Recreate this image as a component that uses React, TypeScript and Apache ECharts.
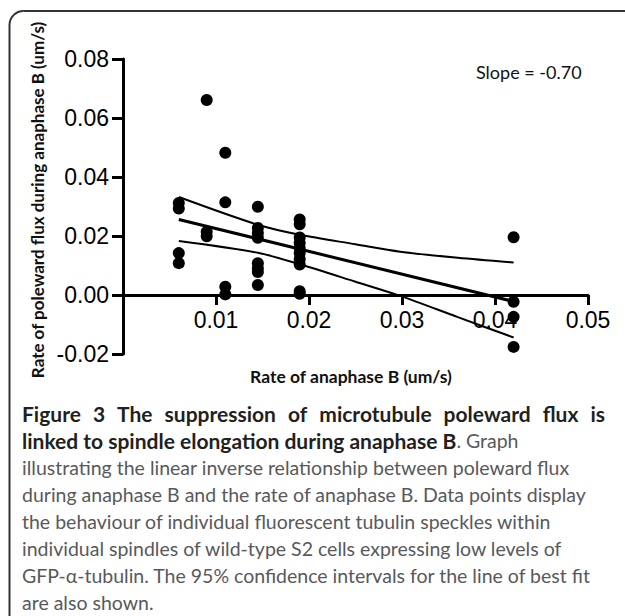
import React, { useEffect, useRef } from 'react';
import * as echarts from 'echarts';

// Scatter points: rate of anaphase B (x) vs rate of poleward flux (y), um/s
const rateAnaphaseB = [
  0.006, 0.006, 0.006, 0.006,
  0.009, 0.009, 0.009,
  0.011, 0.011, 0.011, 0.011,
  0.0145, 0.0145, 0.0145, 0.0145, 0.0145, 0.0145, 0.0145, 0.0145,
  0.019, 0.019, 0.019, 0.019, 0.019, 0.019, 0.019, 0.019, 0.019, 0.019,
  0.042, 0.042, 0.042, 0.042,
];
const polewardFlux = [
  0.0312, 0.0293, 0.0142, 0.0108,
  0.0661, 0.0214, 0.0199,
  0.0482, 0.0314, 0.0028, 0.0002,
  0.0299, 0.0227, 0.021, 0.0194, 0.0108, 0.0091, 0.0078, 0.0034,
  0.0256, 0.024, 0.0195, 0.0176, 0.0159, 0.0142, 0.0121, 0.0103, 0.0013, 0.0004,
  0.0196, -0.0023, -0.0074, -0.0176,
];

// Line of best fit (end points)
const fitX = [0.006, 0.042];
const fitY = [0.0256, -0.0022];

// 95% confidence band
const bandX = [0.006, 0.0145, 0.019, 0.025, 0.0298, 0.036, 0.042];
const upperY = [0.0332, 0.0238, 0.0204, 0.0172, 0.0147, 0.0126, 0.011];
const lowerY = [0.0183, 0.0143, 0.0104, 0.0045, -0.0003, -0.0075, -0.0144];

// Axis ticks
const xTicks = { min: 0, max: 0.05, interval: 0.01 };
const yTicks = { min: -0.02, max: 0.08, interval: 0.02 };

const slopeText = 'Slope = -0.70';
const xTitle = 'Rate of anaphase B (um/s)';
const yTitle = 'Rate of poleward flux during anaphase B (um/s)';

const captionLine1 = 'Figure 3 The suppression of microtubule poleward flux is';
const captionLine2Bold = 'linked to spindle elongation during anaphase B';
const captionLine2Rest = '. Graph';
const captionRest = [
  'illustrating the linear inverse relationship between poleward flux',
  'during anaphase B and the rate of anaphase B. Data points display',
  'the behaviour of individual fluorescent tubulin speckles within',
  'individual spindles of wild-type S2 cells expressing low levels of',
  'GFP-\u03b1-tubulin. The 95% confidence intervals for the line of best fit',
  'are also shown.',
];

const zip = (xs: number[], ys: number[]) => xs.map((x, i) => [x, ys[i]]);

function measure(text: string, font: string): number {
  const ctx = document.createElement('canvas').getContext('2d');
  if (!ctx) return text.length * 8;
  ctx.font = font;
  return ctx.measureText(text).width;
}

const CAP_FONT = 'Lato';
const CAP_SIZE = 19.5;
const CAP_BOLD_SIZE = 21;

export default function App() {
  const ref = useRef<HTMLDivElement>(null);

  useEffect(() => {
    if (!ref.current) return;
    const chart = echarts.init(ref.current, undefined, { renderer: 'svg' });

    const grid = { left: 123, top: 59, width: 465, height: 295 };
    // move the x axis up to the y = 0 line
    const xAxisOffset = -grid.height * (0 - yTicks.min) / (yTicks.max - yTicks.min);

    // Justify the first caption line across the text block
    const x0 = 22;
    const x1 = 605;
    const boldFont = `bold ${CAP_BOLD_SIZE}px ${CAP_FONT}`;
    const regFont = `${CAP_SIZE}px ${CAP_FONT}`;
    const words = captionLine1.split(' ');
    const widths = words.map((w) => measure(w, boldFont));
    const total = widths.reduce((a, b) => a + b, 0);
    const gap = (x1 - x0 - total) / (words.length - 1);
    const topY = 413;
    const lineH = 27;
    let cx = x0;
    const line1Els = words.map((w, i) => {
      const el = {
        type: 'text',
        x: cx,
        y: topY,
        silent: true,
        style: {
          text: w,
          font: boldFont,
          fill: '#231f20',
          textVerticalAlign: 'middle',
        },
      };
      cx += widths[i] + gap;
      return el;
    });

    const restEls = captionRest.map((t, i) => ({
      type: 'text',
      x: x0,
      y: topY + lineH * (i + 2),
      silent: true,
      style: {
        text: t,
        font: regFont,
        fill: '#58595b',
        textVerticalAlign: 'middle',
      },
    }));

    const axisStyle = { color: '#000', width: 3 };
    const tickFont = { fontFamily: 'Liberation Sans', fontSize: 23, color: '#000' };

    chart.setOption({
      animation: false,
      backgroundColor: '#fff',
      grid: { ...grid, containLabel: false },
      xAxis: {
        type: 'value',
        min: xTicks.min,
        max: xTicks.max,
        interval: xTicks.interval,
        offset: xAxisOffset,
        axisLine: { show: true, onZero: false, lineStyle: axisStyle },
        axisTick: { show: true, length: 10, lineStyle: axisStyle },
        axisLabel: {
          ...tickFont,
          margin: 13,
          formatter: (v: number) => (Math.abs(v) < 1e-9 ? '' : v.toFixed(2)),
        },
        splitLine: { show: false },
      },
      yAxis: {
        type: 'value',
        min: yTicks.min,
        max: yTicks.max,
        interval: yTicks.interval,
        axisLine: { show: true, onZero: false, lineStyle: axisStyle },
        axisTick: { show: true, length: 11, lineStyle: axisStyle },
        axisLabel: {
          ...tickFont,
          margin: 14,
          formatter: (v: number) => v.toFixed(2),
        },
        splitLine: { show: false },
      },
      series: [
        {
          type: 'line',
          data: zip(fitX, fitY),
          symbol: 'none',
          lineStyle: { color: '#000', width: 3 },
          z: 3,
        },
        {
          type: 'line',
          data: zip(bandX, upperY),
          symbol: 'none',
          smooth: 0.3,
          lineStyle: { color: '#000', width: 2 },
          z: 3,
        },
        {
          type: 'line',
          data: zip(bandX, lowerY),
          symbol: 'none',
          smooth: 0.3,
          lineStyle: { color: '#000', width: 2 },
          z: 3,
        },
        {
          type: 'scatter',
          data: zip(rateAnaphaseB, polewardFlux),
          symbol: 'circle',
          symbolSize: 12,
          itemStyle: { color: '#000', opacity: 1 },
          z: 4,
        },
      ],
      graphic: [
        {
          type: 'rect',
          silent: true,
          shape: { x: 9.5, y: 11, width: 900, height: 900, r: 14 },
          style: { fill: 'none', stroke: '#333', lineWidth: 2 },
        },
        {
          type: 'text',
          x: 476,
          y: 72,
          silent: true,
          style: {
            text: slopeText,
            font: `18px ${CAP_FONT}`,
            fill: '#111',
            textVerticalAlign: 'middle',
          },
        },
        {
          type: 'text',
          x: 351,
          y: 376,
          silent: true,
          style: {
            text: xTitle,
            font: `bold 17.5px ${CAP_FONT}`,
            fill: '#111',
            textAlign: 'center',
            textVerticalAlign: 'middle',
          },
        },
        {
          type: 'text',
          x: 37,
          y: 200,
          rotation: Math.PI / 2,
          silent: true,
          style: {
            text: yTitle,
            font: `bold 17px ${CAP_FONT}`,
            fill: '#111',
            textAlign: 'center',
            textVerticalAlign: 'middle',
          },
        },
        ...line1Els,
        {
          type: 'text',
          x: x0,
          y: topY + lineH,
          silent: true,
          style: {
            text: `{b|${captionLine2Bold}}{r|${captionLine2Rest}}`,
            textVerticalAlign: 'middle',
            rich: {
              b: { font: boldFont, fill: '#231f20' },
              r: { font: regFont, fill: '#58595b' },
            },
          },
        },
        ...restEls,
      ],
    });

    return () => chart.dispose();
  }, []);

  return (
    <div
      ref={ref}
      style={{ position: 'absolute', left: 0, top: 0, width: 625, height: 616, background: '#fff' }}
    />
  );
}
